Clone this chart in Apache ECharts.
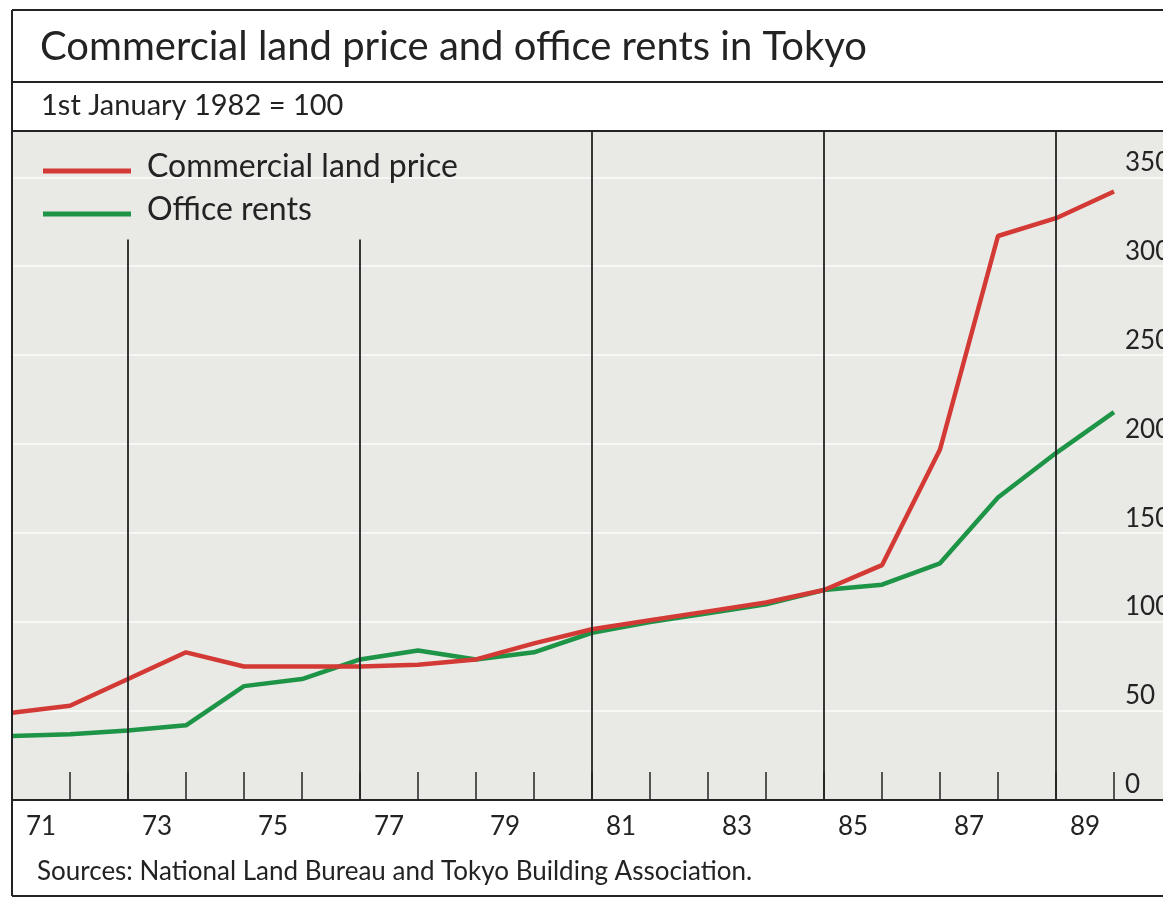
<!DOCTYPE html>
<html><head><meta charset="utf-8">
<script src="https://cdn.jsdelivr.net/npm/echarts@6/dist/echarts.min.js"></script>
<style>html,body{margin:0;padding:0;background:#fff}#c{width:1163px;height:898px}</style>
</head><body><div id="c"></div>
<script>
// ---- data ----
const years = [1971,1972,1973,1974,1975,1976,1977,1978,1979,1980,1981,1982,1983,1984,1985,1986,1987,1988,1989,1990];
const landPrice   = [49, 53, 68, 83, 75, 75, 75, 76, 79, 88, 96, 101, 106, 111, 118, 132, 197, 317, 327, 342];
const officeRents = [36, 37, 39, 42, 64, 68, 79, 84, 79, 83, 94, 100, 105, 110, 118, 121, 133, 170, 195, 218];
const xTickLabels = ['71', '73', '75', '77', '79', '81', '83', '85', '87', '89'];
const yTicks = [0, 50, 100, 150, 200, 250, 300, 350];
const dividerYears = [1973, 1977, 1981, 1985, 1989];
const seriesNames = ['Commercial land price', 'Office rents'];

const FONT = 'Lato';
const INK = '#232323';
const Y_MAX = 376;
const X_MAX = 1990.845;   // axis extent runs past the right edge of the picture (cropped)

const chart = echarts.init(document.getElementById('c'), null, {renderer: 'canvas'});

const dividerData = dividerYears.map(yr => [
  {coord: [yr, yr < 1980 ? 315 : Y_MAX]},
  {coord: [yr, 0]}
]);

const option = {
  backgroundColor: '#ffffff',
  animation: false,
  textStyle: {fontFamily: FONT, color: INK},
  title: [
    {text: 'Commercial land price and office rents in Tokyo', left: 40, top: 25,
     padding: 0, textStyle: {fontFamily: FONT, fontSize: 40, fontWeight: 'normal', color: INK, lineHeight: 44}},
    {text: '1st January 1982 = 100', left: 41, top: 90,
     padding: 0, textStyle: {fontFamily: FONT, fontSize: 29, fontWeight: 'normal', color: INK, lineHeight: 32}},
    {text: 'Sources: National Land Bureau and Tokyo Building Association.', left: 37, top: 857,
     padding: 0, textStyle: {fontFamily: FONT, fontSize: 26, fontWeight: 'normal', color: INK, lineHeight: 30}}
  ],
  legend: {
    orient: 'vertical', left: 43, top: 151, padding: 0,
    itemWidth: 88, itemHeight: 5, itemGap: 3, icon: 'rect',
    data: seriesNames,
    formatter: n => '{a|' + n + '}',
    textStyle: {fontFamily: FONT, fontSize: 32, color: INK, lineHeight: 30, padding: [0, 0, 0, 11],
      rich: {a: {fontFamily: FONT, fontSize: 32, color: INK, lineHeight: 30, padding: [0, 0, 8, 0]}}}
  },
  grid: {left: 12, right: 0, top: 131, bottom: 98, outerBoundsMode: 'none',
    show: true, backgroundColor: '#e9e9e6', borderWidth: 0, containLabel: false},
  xAxis: {
    type: 'value', min: years[0], max: X_MAX, interval: 1, position: 'bottom',
    axisLine: {show: true, onZero: false, lineStyle: {color: INK, width: 2}},
    axisTick: {show: true, inside: true, length: 28, lineStyle: {color: INK, width: 1.5}},
    axisLabel: {show: true, margin: 14, fontFamily: FONT, fontSize: 26, color: INK,
      showMaxLabel: false, padding: [0, 0, 0, 58],
      formatter: v => {
        const s = String(Math.round(v) % 100);
        return (Number.isInteger(v) && xTickLabels.indexOf(s) >= 0) ? s : '';
      }},
    splitLine: {show: false}
  },
  yAxis: {
    type: 'value', position: 'right', min: 0, max: Y_MAX, interval: 50,
    axisLine: {show: false}, axisTick: {show: false},
    axisLabel: {inside: true, align: 'left', verticalAlign: 'bottom', margin: 38, padding: [0, 0, 2, 0],
      fontFamily: FONT, fontSize: 26, color: INK, showMaxLabel: false,
      formatter: v => (yTicks.indexOf(v) >= 0 ? String(v) : '')},
    splitLine: {show: true, lineStyle: {color: '#f7f7f5', width: 2}}
  },
  series: [
    {name: seriesNames[0], type: 'line', symbol: 'none', z: 3,
     data: years.map((y, i) => [y, landPrice[i]]),
     lineStyle: {color: '#d43a35', width: 4.5}, itemStyle: {color: '#d43a35'},
     markLine: {silent: true, symbol: 'none', z: 5, label: {show: false},
       lineStyle: {color: INK, width: 1.8, type: 'solid'}, data: dividerData}},
    {name: seriesNames[1], type: 'line', symbol: 'none', z: 2,
     data: years.map((y, i) => [y, officeRents[i]]),
     lineStyle: {color: '#1e9447', width: 4.5}, itemStyle: {color: '#1e9447'}}
  ],
  graphic: [
    {type: 'line', z: 100, shape: {x1: 12, y1: 10, x2: 1163, y2: 10}, style: {stroke: INK, lineWidth: 2}},
    {type: 'line', z: 100, shape: {x1: 12, y1: 82, x2: 1163, y2: 82}, style: {stroke: INK, lineWidth: 2}},
    {type: 'line', z: 100, shape: {x1: 12, y1: 131, x2: 1163, y2: 131}, style: {stroke: INK, lineWidth: 2}},
    {type: 'line', z: 100, shape: {x1: 12, y1: 10, x2: 12, y2: 896}, style: {stroke: INK, lineWidth: 2}},
    {type: 'line', z: 100, shape: {x1: 12, y1: 896, x2: 1163, y2: 896}, style: {stroke: INK, lineWidth: 2}}
  ]
};
chart.setOption(option);
</script>
</body></html>
